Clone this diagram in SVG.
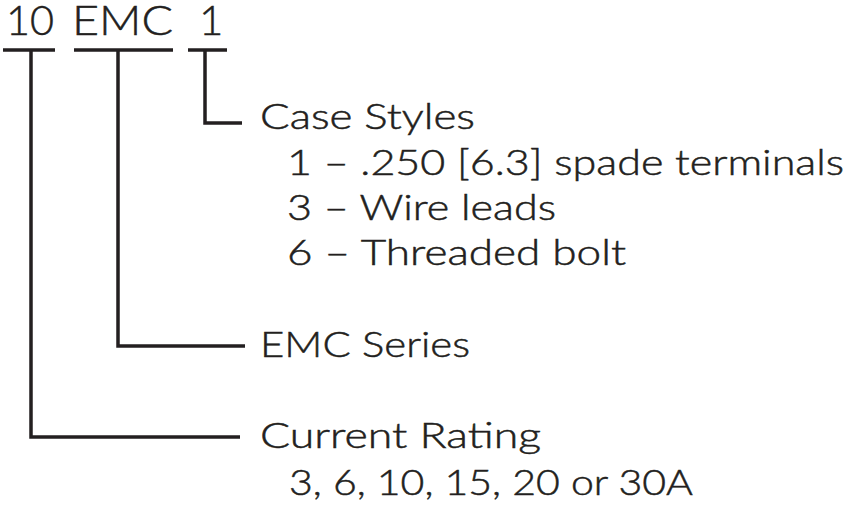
<svg xmlns="http://www.w3.org/2000/svg" width="846" height="507" viewBox="0 0 846 507">
<style>
text{font-family:"Lato","Open Sans","Liberation Sans",sans-serif;fill:#231f20;stroke:#231f20;stroke-width:0.5;font-size:36px;font-weight:300}
.top{font-size:42px}
.ln{stroke:#231f20;stroke-width:3.5;fill:none;stroke-linecap:butt;stroke-linejoin:miter}
</style>
<rect width="846" height="507" fill="#ffffff"/>
<g id="code">
<text class="top" x="6" y="35" textLength="48" lengthAdjust="spacingAndGlyphs">10</text>
<text class="top" x="72" y="35" textLength="101" lengthAdjust="spacingAndGlyphs">EMC</text>
<text class="top" x="199" y="35">1</text>
</g>
<g id="connectors">
<path class="ln" d="M3,50 H55 M74,50 H173 M188,50 H227"/>
<path class="ln" d="M31,50 V437 H240"/>
<path class="ln" d="M118,50 V346 H245"/>
<path class="ln" d="M205,50 V123 H242"/>
</g>
<g id="case-styles">
<text x="260" y="129" textLength="215" lengthAdjust="spacingAndGlyphs">Case Styles</text>
<text x="287" y="175" textLength="557" lengthAdjust="spacingAndGlyphs">1 – .250 [6.3] spade terminals</text>
<text x="287" y="220" textLength="269" lengthAdjust="spacingAndGlyphs">3 – Wire leads</text>
<text x="287" y="265" textLength="339" lengthAdjust="spacingAndGlyphs">6 – Threaded bolt</text>
</g>
<g id="emc-series">
<text x="260" y="357" textLength="210" lengthAdjust="spacingAndGlyphs">EMC Series</text>
</g>
<g id="current-rating">
<text x="260" y="448" textLength="281" lengthAdjust="spacingAndGlyphs">Current Rating</text>
<text x="289" y="495" textLength="404" lengthAdjust="spacingAndGlyphs">3, 6, 10, 15, 20 or 30A</text>
</g>
</svg>
